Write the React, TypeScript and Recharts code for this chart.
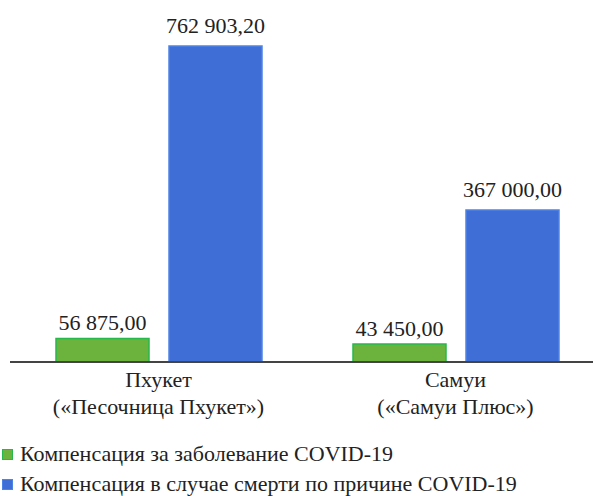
import { BarChart, Bar, XAxis, YAxis, LabelList } from 'recharts';

const regions = ['Пхукет|(«Песочница Пхукет»)', 'Самуи|(«Самуи Плюс»)'];
const illness = [56875.0, 43450.0];
const death = [762903.2, 367000.0];
const seriesNames = [
  'Компенсация за заболевание COVID-19',
  'Компенсация в случае смерти по причине COVID-19',
];

const data = regions.map((name, i) => ({ name, illness: illness[i], death: death[i] }));

const FONT = "'Liberation Serif', 'DejaVu Serif', 'Times New Roman', serif";
const FS = 22;
const GREEN = { fill: '#6cb33e', stroke: '#27b84c' };
const BLUE = { fill: '#3f6fd6', stroke: '#4d83e6' };

const fmt = (v: number) =>
  v
    .toFixed(2)
    .replace('.', ',')
    .replace(/\B(?=(\d{3})+(?!\d))/g, ' ');

function CategoryTick(props: any) {
  const { x, y, payload } = props;
  const lines = String(payload.value).split('|');
  return (
    <text x={x} y={y} textAnchor="middle" style={{ fontFamily: FONT }} fontSize={FS} fill="#222">
      {lines.map((l, i) => (
        <tspan key={i} x={x} dy={i === 0 ? 17 : 27}>
          {l}
        </tspan>
      ))}
    </text>
  );
}

function LegendBox() {
  const colors = [GREEN, BLUE];
  return (
    <div
      style={{
        position: 'absolute',
        left: 2,
        top: 439,
        fontFamily: FONT,
        fontSize: FS,
        color: '#222',
        whiteSpace: 'nowrap',
      }}
    >
      {seriesNames.map((n, i) => (
        <div key={n} style={{ display: 'flex', alignItems: 'center', height: 30 }}>
          <span
            style={{
              display: 'inline-block',
              width: 9,
              height: 9,
              background: colors[i].fill,
              border: `1px solid ${colors[i].stroke}`,
              marginRight: 7,
            }}
          />
          {n}
        </div>
      ))}
    </div>
  );
}

export default function App() {
  return (
    <div
      style={{
        position: 'fixed',
        left: 0,
        top: 0,
        width: 593,
        height: 496,
        overflow: 'hidden',
        background: '#fff',
        fontFamily: FONT,
      }}
    >
      <BarChart
        width={604}
        height={440}
        data={data}
        margin={{ top: 46, right: 0, left: 10, bottom: 0 }}
        barCategoryGap={46}
        barGap={20}
        style={{ fontFamily: FONT }}
      >
        <YAxis hide domain={[0, 762903.2]} />
        <XAxis
          dataKey="name"
          tick={<CategoryTick />}
          tickLine={false}
          axisLine={{ stroke: '#444', strokeWidth: 2 }}
          height={78}
          interval={0}
        />
        <Bar
          dataKey="illness"
          name={seriesNames[0]}
          fill={GREEN.fill}
          stroke={GREEN.stroke}
          strokeWidth={1.5}
          barSize={93}
          isAnimationActive={false}
        >
          <LabelList
            dataKey="illness"
            position="top"
            offset={8}
            formatter={(v: any) => fmt(Number(v))}
            style={{ fontFamily: FONT, fontSize: FS, fill: '#222' }}
          />
        </Bar>
        <Bar
          dataKey="death"
          name={seriesNames[1]}
          fill={BLUE.fill}
          stroke={BLUE.stroke}
          strokeWidth={1.5}
          barSize={93}
          isAnimationActive={false}
        >
          <LabelList
            dataKey="death"
            position="top"
            offset={13}
            formatter={(v: any) => fmt(Number(v))}
            style={{ fontFamily: FONT, fontSize: FS, fill: '#222' }}
          />
        </Bar>
      </BarChart>
      <LegendBox />
    </div>
  );
}
